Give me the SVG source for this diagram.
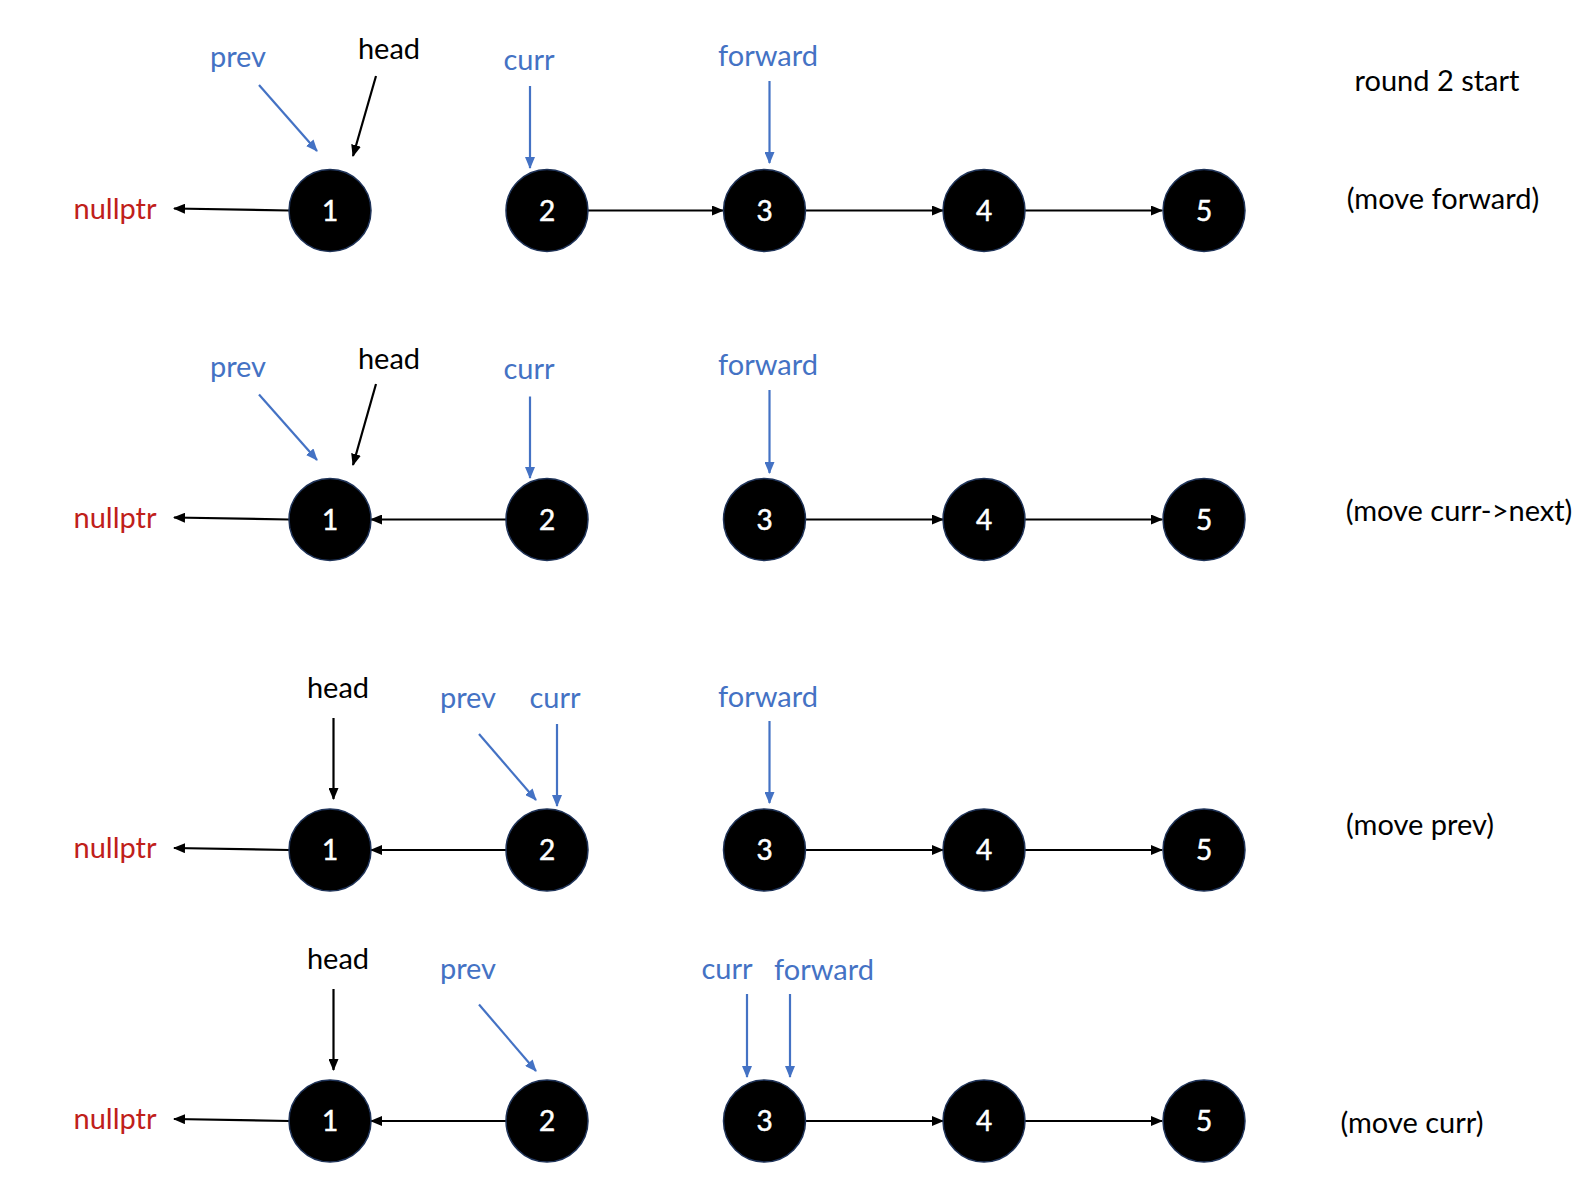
<svg xmlns="http://www.w3.org/2000/svg" width="1594" height="1188" viewBox="0 0 1594 1188">
  <style>
    text { font-family: Lato, "Open Sans", "Liberation Sans", sans-serif; font-size: 29px; text-anchor: middle; }
    .ptr { fill: #4472C4; }
    .lbl { fill: #000000; }
    .nil { fill: #C0201A; }
    .num { fill: #ffffff; font-size: 28px; stroke: #ffffff; stroke-width: 0.5; }
    .node circle { fill: #000000; stroke: #1F3358; stroke-width: 1.5; }
    .link { stroke: #000000; stroke-width: 2.2; fill: none; marker-end: url(#headBlack); }
    .bptr { stroke: #4472C4; stroke-width: 2.2; fill: none; marker-end: url(#headBlue); }
    .hptr { stroke: #000000; stroke-width: 2.2; fill: none; marker-end: url(#headBlack); }
  </style>
  <defs>
    <marker id="headBlack" markerWidth="12" markerHeight="10" refX="11" refY="5" orient="auto" markerUnits="userSpaceOnUse">
      <path d="M0,0 L12,5 L0,10 z" fill="#000000"/>
    </marker>
    <marker id="headBlue" markerWidth="12" markerHeight="10" refX="11" refY="5" orient="auto" markerUnits="userSpaceOnUse">
      <path d="M0,0 L12,5 L0,10 z" fill="#4472C4"/>
    </marker>
  </defs>
  <rect width="1594" height="1188" fill="#ffffff"/>

  <!-- connectors -->
  <g id="connectors">
    <!-- stage 1 -->
    <line class="link" x1="289" y1="210.5" x2="174" y2="208.5"/>
    <line class="link" x1="588" y1="210.5" x2="723" y2="210.5"/>
    <line class="link" x1="805" y1="210.5" x2="943" y2="210.5"/>
    <line class="link" x1="1025" y1="210.5" x2="1162" y2="210.5"/>
    <line class="bptr" x1="259" y1="85" x2="317" y2="151"/>
    <line class="hptr" x1="376" y1="76" x2="353" y2="156"/>
    <line class="bptr" x1="530" y1="86" x2="530" y2="168"/>
    <line class="bptr" x1="769.5" y1="81" x2="769.5" y2="163"/>

    <!-- stage 2 -->
    <line class="link" x1="289" y1="519.5" x2="174" y2="517.5"/>
    <line class="link" x1="506" y1="519.5" x2="371" y2="519.5"/>
    <line class="link" x1="805" y1="519.5" x2="943" y2="519.5"/>
    <line class="link" x1="1025" y1="519.5" x2="1162" y2="519.5"/>
    <line class="bptr" x1="259" y1="394.5" x2="317" y2="460"/>
    <line class="hptr" x1="376" y1="384" x2="353" y2="465"/>
    <line class="bptr" x1="530" y1="396.5" x2="530" y2="478"/>
    <line class="bptr" x1="769.5" y1="390" x2="769.5" y2="473"/>

    <!-- stage 3 -->
    <line class="link" x1="289" y1="850" x2="174" y2="848"/>
    <line class="link" x1="506" y1="850" x2="371" y2="850"/>
    <line class="link" x1="805" y1="850" x2="943" y2="850"/>
    <line class="link" x1="1025" y1="850" x2="1162" y2="850"/>
    <line class="hptr" x1="333.5" y1="718" x2="333.5" y2="799"/>
    <line class="bptr" x1="479" y1="734" x2="536" y2="800"/>
    <line class="bptr" x1="557" y1="724" x2="557" y2="806"/>
    <line class="bptr" x1="769.5" y1="721" x2="769.5" y2="803"/>

    <!-- stage 4 -->
    <line class="link" x1="289" y1="1121" x2="174" y2="1119"/>
    <line class="link" x1="506" y1="1121" x2="371" y2="1121"/>
    <line class="link" x1="805" y1="1121" x2="943" y2="1121"/>
    <line class="link" x1="1025" y1="1121" x2="1162" y2="1121"/>
    <line class="hptr" x1="333.5" y1="989" x2="333.5" y2="1070"/>
    <line class="bptr" x1="479" y1="1004.5" x2="536" y2="1071"/>
    <line class="bptr" x1="747" y1="994" x2="747" y2="1077"/>
    <line class="bptr" x1="790" y1="994" x2="790" y2="1077"/>
  </g>

  <!-- stage 1 nodes -->
  <g id="s1-null"><text class="nil" x="115" y="219">nullptr</text></g>
  <g id="s1-n1" class="node"><circle cx="330" cy="210.5" r="41"/><text class="num" x="330" y="220.5">1</text></g>
  <g id="s1-n2" class="node"><circle cx="547" cy="210.5" r="41"/><text class="num" x="547" y="220.5">2</text></g>
  <g id="s1-n3" class="node"><circle cx="764.5" cy="210.5" r="41"/><text class="num" x="764.5" y="220.5">3</text></g>
  <g id="s1-n4" class="node"><circle cx="984" cy="210.5" r="41"/><text class="num" x="984" y="220.5">4</text></g>
  <g id="s1-n5" class="node"><circle cx="1204" cy="210.5" r="41"/><text class="num" x="1204" y="220.5">5</text></g>
  <g id="s1-labels">
    <text class="ptr" x="238" y="67">prev</text>
    <text class="lbl" x="389" y="59">head</text>
    <text class="ptr" x="529" y="70">curr</text>
    <text class="ptr" x="768" y="66">forward</text>
    <text class="lbl" x="1437" y="91">round 2 start</text>
    <text class="lbl" x="1443" y="209">(move forward)</text>
  </g>

  <!-- stage 2 nodes -->
  <g id="s2-null"><text class="nil" x="115" y="528">nullptr</text></g>
  <g id="s2-n1" class="node"><circle cx="330" cy="519.5" r="41"/><text class="num" x="330" y="529.5">1</text></g>
  <g id="s2-n2" class="node"><circle cx="547" cy="519.5" r="41"/><text class="num" x="547" y="529.5">2</text></g>
  <g id="s2-n3" class="node"><circle cx="764.5" cy="519.5" r="41"/><text class="num" x="764.5" y="529.5">3</text></g>
  <g id="s2-n4" class="node"><circle cx="984" cy="519.5" r="41"/><text class="num" x="984" y="529.5">4</text></g>
  <g id="s2-n5" class="node"><circle cx="1204" cy="519.5" r="41"/><text class="num" x="1204" y="529.5">5</text></g>
  <g id="s2-labels">
    <text class="ptr" x="238" y="377">prev</text>
    <text class="lbl" x="389" y="369">head</text>
    <text class="ptr" x="529" y="379">curr</text>
    <text class="ptr" x="768" y="375">forward</text>
    <text class="lbl" x="1459" y="521">(move curr-&gt;next)</text>
  </g>

  <!-- stage 3 nodes -->
  <g id="s3-null"><text class="nil" x="115" y="858">nullptr</text></g>
  <g id="s3-n1" class="node"><circle cx="330" cy="850" r="41"/><text class="num" x="330" y="860">1</text></g>
  <g id="s3-n2" class="node"><circle cx="547" cy="850" r="41"/><text class="num" x="547" y="860">2</text></g>
  <g id="s3-n3" class="node"><circle cx="764.5" cy="850" r="41"/><text class="num" x="764.5" y="860">3</text></g>
  <g id="s3-n4" class="node"><circle cx="984" cy="850" r="41"/><text class="num" x="984" y="860">4</text></g>
  <g id="s3-n5" class="node"><circle cx="1204" cy="850" r="41"/><text class="num" x="1204" y="860">5</text></g>
  <g id="s3-labels">
    <text class="lbl" x="338" y="698">head</text>
    <text class="ptr" x="468" y="708">prev</text>
    <text class="ptr" x="555" y="708">curr</text>
    <text class="ptr" x="768" y="707">forward</text>
    <text class="lbl" x="1420" y="835">(move prev)</text>
  </g>

  <!-- stage 4 nodes -->
  <g id="s4-null"><text class="nil" x="115" y="1129">nullptr</text></g>
  <g id="s4-n1" class="node"><circle cx="330" cy="1121" r="41"/><text class="num" x="330" y="1131">1</text></g>
  <g id="s4-n2" class="node"><circle cx="547" cy="1121" r="41"/><text class="num" x="547" y="1131">2</text></g>
  <g id="s4-n3" class="node"><circle cx="764.5" cy="1121" r="41"/><text class="num" x="764.5" y="1131">3</text></g>
  <g id="s4-n4" class="node"><circle cx="984" cy="1121" r="41"/><text class="num" x="984" y="1131">4</text></g>
  <g id="s4-n5" class="node"><circle cx="1204" cy="1121" r="41"/><text class="num" x="1204" y="1131">5</text></g>
  <g id="s4-labels">
    <text class="lbl" x="338" y="969">head</text>
    <text class="ptr" x="468" y="979">prev</text>
    <text class="ptr" x="727" y="979">curr</text>
    <text class="ptr" x="824" y="980">forward</text>
    <text class="lbl" x="1412" y="1133">(move curr)</text>
  </g>
</svg>
